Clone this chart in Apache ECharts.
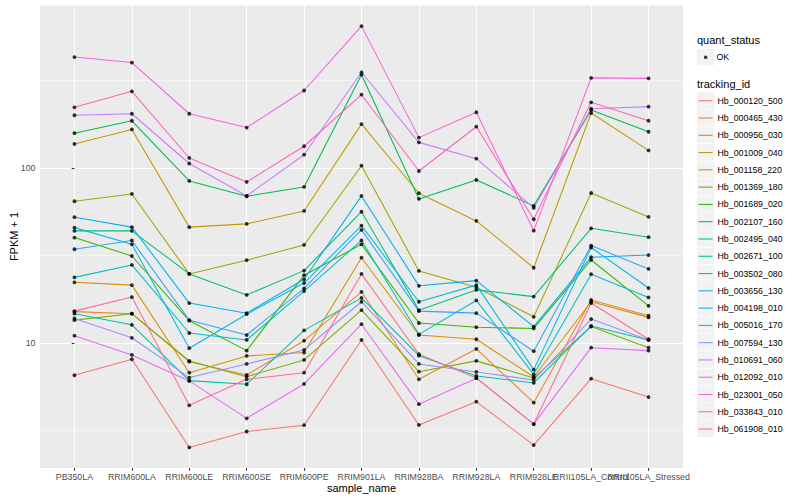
<!DOCTYPE html>
<html><head><meta charset="utf-8">
<script src="https://cdn.jsdelivr.net/npm/echarts@6/dist/echarts.min.js"></script>
<style>html,body{margin:0;padding:0;background:#fff}#c{width:800px;height:500px}</style>
</head><body><div id="c"></div>
<script>
// ---- data ----
const categories = ['PB350LA','RRIM600LA','RRIM600LE','RRIM600SE','RRIM600PE','RRIM901LA','RRIM928BA','RRIM928LA','RRIM928LE','RRII105LA_Control','RRII105LA_Stressed'];
const trackingIds = ['Hb_000120_500','Hb_000465_430','Hb_000956_030','Hb_001009_040','Hb_001158_220','Hb_001369_180','Hb_001689_020','Hb_002107_160','Hb_002495_040','Hb_002671_100','Hb_003502_080','Hb_003656_130','Hb_004198_010','Hb_005016_170','Hb_007594_130','Hb_010691_060','Hb_012092_010','Hb_023001_050','Hb_033843_010','Hb_061908_010'];
const yTickLabels = [10, 100];

const Hb_000120_500 = [6.54, 8.07, 2.53, 3.12, 3.39, 10.4, 3.40, 4.62, 2.61, 6.25, 4.91];
const Hb_000465_430 = [15.1, 14.7, 7.82, 6.56, 10.3, 19.6, 6.20, 9.24, 4.56, 17.6, 14.3];
const Hb_000956_030 = [22.2, 21.4, 6.76, 8.43, 8.81, 30.7, 11.1, 10.5, 6.39, 17.2, 14.0];
const Hb_001009_040 = [137, 166, 45.9, 47.9, 56.8, 178, 71.7, 49.8, 26.9, 206, 126];
const Hb_001158_220 = [64.5, 71.0, 24.8, 29.7, 36.3, 103, 25.8, 20.8, 14.1, 71.9, 52.5];
const Hb_001369_180 = [13.5, 14.7, 7.89, 6.42, 8.00, 15.4, 6.85, 7.90, 6.31, 12.4, 9.40];
const Hb_001689_020 = [40.0, 31.4, 13.4, 9.04, 24.4, 36.6, 13.0, 12.3, 12.1, 29.8, 16.3];
const Hb_002107_160 = [158, 186, 84.3, 68.9, 77.9, 341, 66.5, 85.4, 60.7, 214, 161];
const Hb_002495_040 = [43.7, 43.7, 24.8, 18.8, 25.9, 56.2, 15.4, 20.1, 18.4, 45.2, 40.2];
const Hb_002671_100 = [14.7, 12.7, 6.09, 5.81, 11.8, 18.1, 8.46, 6.48, 5.91, 12.5, 10.4];
const Hb_003502_080 = [23.7, 27.9, 11.4, 10.4, 19.8, 38.5, 11.2, 17.5, 6.62, 24.7, 18.2];
const Hb_003656_130 = [45.6, 36.6, 9.33, 14.6, 22.0, 46.8, 17.2, 21.4, 7.04, 35.1, 20.6];
const Hb_004198_010 = [52.3, 45.9, 16.9, 14.8, 23.1, 69.2, 21.2, 22.7, 12.4, 30.9, 31.8];
const Hb_005016_170 = [34.3, 38.5, 13.5, 11.1, 20.5, 44.3, 15.2, 14.8, 8.97, 36.0, 26.5];
const Hb_007594_130 = [13.8, 10.7, 6.34, 7.59, 9.12, 17.2, 7.59, 6.83, 6.15, 13.7, 10.4];
const Hb_010691_060 = [200, 204, 106, 69.2, 119, 352, 140, 113, 59.1, 218, 224];
const Hb_012092_010 = [11.0, 8.54, 6.07, 3.71, 5.83, 12.8, 4.47, 6.29, 3.44, 9.40, 9.04];
const Hb_023001_050 = [430, 400, 204, 170, 277, 646, 149, 208, 43.8, 327, 325];
const Hb_033843_010 = [222, 274, 114, 83.2, 133, 262, 96.0, 172, 50.9, 237, 186];
const Hb_061908_010 = [15.2, 18.3, 4.40, 6.20, 6.76, 24.8, 8.62, 6.31, 3.44, 16.9, 10.5];

const seriesValues = [Hb_000120_500, Hb_000465_430, Hb_000956_030, Hb_001009_040, Hb_001158_220, Hb_001369_180, Hb_001689_020, Hb_002107_160, Hb_002495_040, Hb_002671_100, Hb_003502_080, Hb_003656_130, Hb_004198_010, Hb_005016_170, Hb_007594_130, Hb_010691_060, Hb_012092_010, Hb_023001_050, Hb_033843_010, Hb_061908_010];

// ---- style ----
const colors = ['#F8766D','#EA8331','#D89000','#C09B00','#A3A500','#7CAE00','#39B600','#00BB4E','#00BF7D','#00C1A3','#00BFC4','#00BAE0','#00B0F6','#35A2FF','#9590FF','#C77CFF','#E76BF3','#FA62DB','#FF62BC','#FF6C91'];
const FONT = '"Liberation Sans", Arial, Helvetica, sans-serif';
const yMin = 1.93, yMax = 853;
const keySize = 17.28;
const legendLeft = 697;
const okTop = 48.7;
const trackTop = 92.1;

const chart = echarts.init(document.getElementById('c'), null, {renderer: 'svg', width: 800, height: 500});

const lineSeries = trackingIds.map((id, k) => ({
  name: id, type: 'line', xAxisIndex: 0, yAxisIndex: 0,
  data: seriesValues[k].map((v, i) => [i, v]),
  symbol: 'none', silent: true, z: 2,
  lineStyle: {width: 1.07, color: colors[k]},
  itemStyle: {color: colors[k]}
}));
const points = [];
seriesValues.forEach(arr => arr.forEach((v, i) => points.push([i, v])));
const okSeries = {name: 'OK', type: 'scatter', xAxisIndex: 0, yAxisIndex: 0, data: points,
  symbol: 'circle', symbolSize: 3.8, itemStyle: {color: '#000000'}, z: 4, silent: true};

const idx = categories.map((c, i) => i);
// labels split over two coincident axes so overlapping neighbours are both kept, as in the reference
const labelsA = idx.filter(i => i % 2 === 0 || i === 5 || i === 7 || i === 1 || i === 3);
const labelsA2 = idx.filter(i => i !== 9);
const labelsB = [9];
const isDecade = v => { const l = Math.log10(v); return Math.abs(l - Math.round(l)) < 1e-6; };
const catLabel = v => (Number.isInteger(v) && categories[v] !== undefined) ? categories[v] : '';

const graphics = [
  {type: 'text', left: legendLeft, top: 34.5, style: {text: 'quant_status', font: '11px ' + FONT, fill: '#000'}},
  {type: 'text', left: legendLeft, top: 78, style: {text: 'tracking_id', font: '11px ' + FONT, fill: '#000'}},
  {type: 'rect', shape: {x: legendLeft, y: okTop, width: keySize, height: keySize - 0.6}, style: {fill: '#F2F2F2'}, z: -1}
];
trackingIds.forEach((id, k) => {
  graphics.push({type: 'rect', shape: {x: legendLeft, y: trackTop + k * keySize, width: keySize, height: keySize - 0.6}, style: {fill: '#F2F2F2'}, z: -1});
});

const labelStyle = {color: '#4D4D4D', fontSize: 8.8, fontFamily: FONT, margin: 4.5,
  hideOverlap: false, showMinLabel: true, showMaxLabel: true, formatter: catLabel};

const option = {
  backgroundColor: '#FFFFFF',
  animation: false,
  color: colors,
  textStyle: {fontFamily: FONT},
  grid: {left: 40, top: 5, width: 643, height: 463, show: true, backgroundColor: '#EBEBEB', borderWidth: 0,
    containLabel: false, outerBoundsMode: 'none'},
  xAxis: [
    {
      type: 'value', min: -0.6, max: 10.6, splitNumber: 11, position: 'bottom', offset: 0,
      axisLine: {show: false},
      axisTick: {show: true, length: 2.75, lineStyle: {color: '#333333', width: 1.07}, customValues: idx},
      axisLabel: Object.assign({customValues: labelsA2}, labelStyle),
      splitLine: {show: true, lineStyle: {color: '#FFFFFF', width: 1.07}},
      name: 'sample_name', nameLocation: 'middle', nameGap: 14.5, nameMoveOverlap: false,
      nameTextStyle: {color: '#000', fontSize: 11, fontFamily: FONT}
    },
    {
      type: 'value', min: -0.6, max: 10.6, splitNumber: 11, position: 'bottom', offset: 0,
      axisLine: {show: false}, axisTick: {show: false}, splitLine: {show: false},
      axisLabel: Object.assign({customValues: labelsB}, labelStyle)
    }
  ],
  yAxis: [
    {
      type: 'log', logBase: 10, min: yMin, max: yMax,
      axisLine: {show: false},
      axisTick: {show: true, length: 2.75, lineStyle: {color: '#333333', width: 1.07}, customValues: yTickLabels},
      axisLabel: {customValues: yTickLabels, color: '#4D4D4D', fontSize: 8.8, fontFamily: FONT, margin: 4.5,
        showMinLabel: true, showMaxLabel: true,
        formatter: v => (isDecade(v) && yTickLabels.some(t => Math.abs(t - v) < 1e-6)) ? String(Math.round(v)) : ''},
      splitLine: {show: true, lineStyle: {color: '#FFFFFF', width: 1.07}},
      name: 'FPKM + 1', nameLocation: 'middle', nameGap: 21, nameMoveOverlap: false,
      nameTextStyle: {color: '#000', fontSize: 11, fontFamily: FONT}
    },
    {
      type: 'log', logBase: Math.sqrt(10), min: yMin, max: yMax,
      axisLine: {show: false}, axisTick: {show: false}, axisLabel: {show: false},
      splitLine: {show: true, lineStyle: {color: '#FFFFFF', width: 0.53}}
    }
  ],
  legend: [
    {data: ['OK'], orient: 'vertical', left: legendLeft + keySize / 2 - 1.75, top: okTop, padding: 0,
      icon: 'circle', itemWidth: 3.5, itemHeight: 3.5, itemGap: 0, selectedMode: false,
      textStyle: {fontSize: 8.8, color: '#000', fontFamily: FONT, lineHeight: keySize, padding: [0, 0, 0, 4]}},
    {data: trackingIds, orient: 'vertical', left: legendLeft + 1.5, top: trackTop, padding: 0,
      icon: 'rect', itemWidth: 14, itemHeight: 1.07, itemGap: 0, selectedMode: false,
      textStyle: {fontSize: 8.8, color: '#000', fontFamily: FONT, lineHeight: keySize}}
  ],
  graphic: graphics,
  series: lineSeries.concat([okSeries])
};
chart.setOption(option);
</script>
</body></html>
